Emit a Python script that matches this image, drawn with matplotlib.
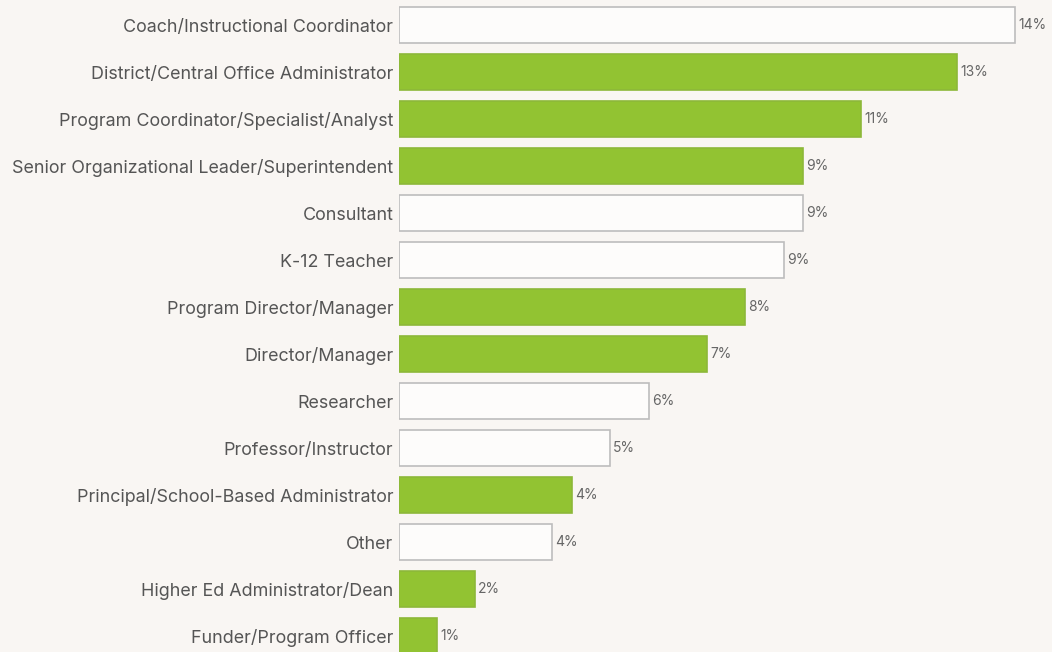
import matplotlib.pyplot as plt

plt.rcParams['font.family'] = ['Inter', 'DejaVu Sans']

roles = ['Coach/Instructional Coordinator', 'District/Central Office Administrator',
         'Program Coordinator/Specialist/Analyst', 'Senior Organizational Leader/Superintendent',
         'Consultant', 'K-12 Teacher', 'Program Director/Manager', 'Director/Manager',
         'Researcher', 'Professor/Instructor', 'Principal/School-Based Administrator',
         'Other', 'Higher Ed Administrator/Dean', 'Funder/Program Officer']
shares = [14.0, 12.68, 10.5, 9.18, 9.18, 8.75, 7.86, 7.0, 5.68, 4.8, 3.93, 3.48, 1.73, 0.86]
labels = ['14%', '13%', '11%', '9%', '9%', '9%', '8%', '7%', '6%', '5%', '4%', '4%', '2%', '1%']
highlight = [False, True, True, True, False, False, True, True, False, False, True, False, True, True]

bg = '#f9f6f3'
green = '#92c332'

fig = plt.figure(figsize=(10.52, 6.52), dpi=100, facecolor=bg)
ax = fig.add_axes([399 / 1052, 0, 653 / 1052, 1])
ax.set_facecolor(bg)

y = list(range(len(roles)))
colors = [green if h else '#fdfcfb' for h in highlight]
edges = ['#8db83a' if h else '#bdbdbd' for h in highlight]
ax.barh(y, shares, height=0.75, color=colors, edgecolor=edges, linewidth=1.2)

# value labels just past the end of each bar
for yi, v, t in zip(y, shares, labels):
    ax.text(v + 0.07, yi, t, va='center', ha='left', fontsize=10, color='#666666')

ax.set_xlim(0, 653 / 44)
ax.set_ylim(13.34, -0.532)
ax.set_yticks(y)
ax.set_yticklabels(roles, fontsize=12.9, color='#555555')
ax.tick_params(axis='y', length=0, pad=4)
ax.set_xticks([])
for s in ax.spines.values():
    s.set_visible(False)

fig.savefig('out.png', dpi=100, facecolor=bg)
